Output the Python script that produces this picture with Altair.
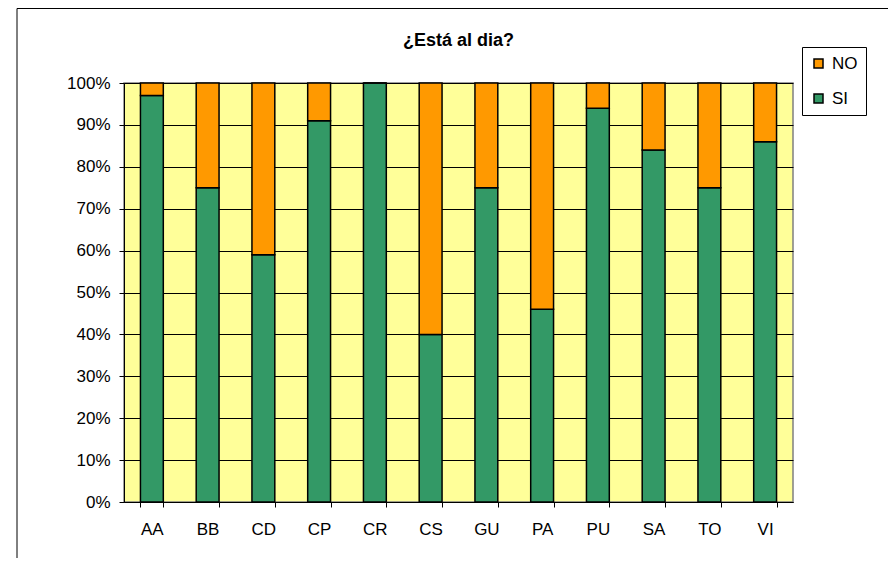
import altair as alt
import pandas as pd

categories = ["AA", "BB", "CD", "CP", "CR", "CS", "GU", "PA", "PU", "SA", "TO", "VI"]
si_pct = [97, 75, 59, 91, 100, 40, 75, 46, 94, 84, 75, 86]
no_pct = [3, 25, 41, 9, 0, 60, 25, 54, 6, 16, 25, 14]
series = ["NO", "SI"]
colors = ["#FF9900", "#339966"]
y_ticks = [0, 0.1, 0.2, 0.3, 0.4, 0.5, 0.6, 0.7, 0.8, 0.9, 1.0]
title_text = "¿Está al dia?"

rows = []
for c, s, n in zip(categories, si_pct, no_pct):
    rows.append({"cat": c, "serie": "SI", "val": s / 100, "ord": 0})
    rows.append({"cat": c, "serie": "NO", "val": n / 100, "ord": 1})
df = pd.DataFrame(rows)

FONT = "Liberation Sans"

bars = alt.Chart(df).mark_bar(stroke="black", strokeWidth=1.5).encode(
    x=alt.X(
        "cat:N",
        sort=categories,
        scale=alt.Scale(paddingInner=0.59, paddingOuter=0.295),
        axis=alt.Axis(
            title=None, labelAngle=0, tickBand="extent", tickSize=5,
            tickColor="black", domainColor="black", labelPadding=14,
            labelFontSize=17, labelFont=FONT, labelColor="black", grid=False,
        ),
    ),
    y=alt.Y(
        "val:Q",
        stack="zero",
        scale=alt.Scale(domain=[0, 1], nice=False),
        axis=alt.Axis(
            title=None, format=".0%", values=y_ticks, tickSize=5,
            tickColor="black", domainColor="black", labelPadding=9,
            labelFontSize=17, labelFont=FONT, labelColor="black",
            grid=True, gridColor="black", gridWidth=1, gridOpacity=1,
        ),
    ),
    color=alt.Color(
        "serie:N",
        scale=alt.Scale(domain=series, range=colors),
        legend=alt.Legend(
            title=None, orient="none", legendX=678, legendY=-36,
            strokeColor="black", padding=8, symbolType="square",
            symbolSize=81, symbolStrokeColor="black", symbolStrokeWidth=1.5,
            labelFontSize=17, labelFont=FONT, labelColor="black",
            rowPadding=17, labelOffset=5,
        ),
    ),
    order=alt.Order("ord:Q"),
)

frame_df = pd.DataFrame({"k": [0]})
left_line = alt.Chart(frame_df).mark_rule(color="black", strokeWidth=1).encode(
    x=alt.value(-107), y=alt.value(-74.5), y2=alt.value(700)
)
top_line = alt.Chart(frame_df).mark_rule(color="black", strokeWidth=1).encode(
    x=alt.value(-107), x2=alt.value(1000), y=alt.value(-74.5)
)
title_mark = alt.Chart(frame_df).mark_text(
    text=title_text, font=FONT, fontSize=18, fontWeight="bold",
    color="black", align="center", baseline="alphabetic",
).encode(x=alt.value(334.5), y=alt.value(-37))

chart = alt.layer(bars, left_line, top_line, title_mark).properties(
    width=669,
    height=419,
    padding={"left": 116, "top": 75, "right": 95, "bottom": 56},
    autosize="none",
).configure_view(
    fill="#FFFF99", stroke="#808080", strokeWidth=1.5
)

chart.save("out.html", embed_options={"renderer": "svg", "actions": False})
